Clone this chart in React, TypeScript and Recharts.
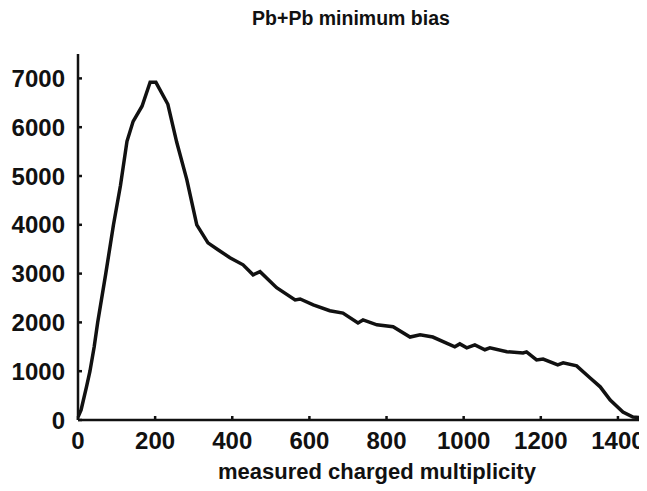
import React from 'react';
import { LineChart, Line, XAxis, YAxis } from 'recharts';

// Pb+Pb minimum bias multiplicity distribution
const multiplicity = [
  0, 8, 22, 31, 42, 51, 72, 92, 110, 127, 143, 166, 187, 202, 233, 256, 282, 308, 337, 363, 394, 428,
  454, 472, 515, 563, 576, 610, 653, 687, 726, 739, 775, 817, 861, 887, 920, 977, 990, 1008, 1029, 1055,
  1068, 1112, 1154, 1163, 1189, 1206, 1244, 1258, 1293, 1328, 1354, 1380, 1413, 1439, 1475, 1500,
];
const counts = [
  60, 205, 680, 1000, 1500, 2000, 3000, 4000, 4800, 5710, 6120, 6430, 6920, 6920, 6470, 5690, 4930, 4000,
  3630, 3490, 3325, 3180, 2975, 3040, 2710, 2460, 2480, 2360, 2240, 2190, 1990, 2050, 1950, 1910, 1700,
  1745, 1700, 1500, 1560, 1480, 1540, 1440, 1480, 1400, 1375, 1395, 1230, 1250, 1130, 1170, 1110, 860,
  680, 410, 165, 60, 40, 40,
];
const xTicks = [0, 200, 400, 600, 800, 1000, 1200, 1400];
const yTicks = [0, 1000, 2000, 3000, 4000, 5000, 6000, 7000];

const data = multiplicity.map((m, i) => ({ m, n: counts[i] }));

const font = '"Liberation Sans", Arial, Helvetica, sans-serif';
const tickStyle = { fontSize: 24, fontWeight: 700, fill: '#111', fontFamily: font };

export default function App() {
  return (
    <div
      style={{
        position: 'relative',
        left: -8,
        top: -8,
        width: 647,
        height: 491,
        overflow: 'hidden',
        background: '#fff',
        fontFamily: font,
        color: '#111',
      }}
    >
      <div
        style={{
          position: 'absolute',
          left: 351 - 150,
          width: 300,
          top: 7,
          textAlign: 'center',
          fontSize: 19.5,
          fontWeight: 700,
        }}
      >
        Pb+Pb minimum bias
      </div>
      <LineChart width={660} height={491} data={data} margin={{ top: 54, right: 3.5, bottom: 0, left: 0 }}>
        <XAxis
          dataKey="m"
          type="number"
          domain={[0, 1500]}
          ticks={xTicks}
          allowDataOverflow
          height={71}
          stroke="#111"
          strokeWidth={2.5}
          tickSize={-4}
          tickMargin={16}
          tick={tickStyle}
        />
        <XAxis
          xAxisId="top"
          dataKey="m"
          type="number"
          orientation="top"
          domain={[0, 1500]}
          ticks={xTicks}
          height={0}
          stroke="#111"
          strokeWidth={2.5}
          tickSize={-4}
          tick={false}
        />
        <YAxis
          type="number"
          domain={[0, 7500]}
          ticks={yTicks}
          width={78}
          stroke="#111"
          strokeWidth={2.5}
          tickSize={-4}
          tickMargin={17}
          tick={tickStyle}
        />
        <Line
          type="linear"
          dataKey="n"
          stroke="#111"
          strokeWidth={3.5}
          dot={false}
          isAnimationActive={false}
        />
      </LineChart>
      <div
        style={{
          position: 'absolute',
          left: 377 - 250,
          width: 500,
          top: 459,
          textAlign: 'center',
          fontSize: 22,
          fontWeight: 700,
        }}
      >
        measured charged multiplicity
      </div>
    </div>
  );
}
